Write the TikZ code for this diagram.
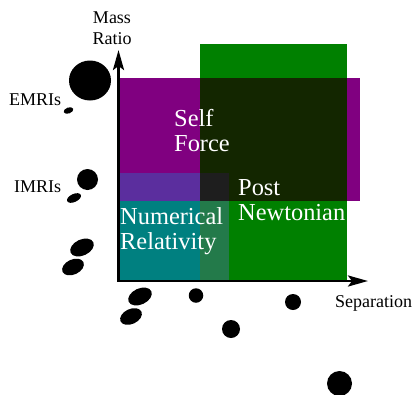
\documentclass[tikz,border=0pt]{standalone}
\usepackage{fontspec}
\setmainfont{Liberation Serif}
\usetikzlibrary{shapes,arrows.meta,positioning,calc}

\definecolor{pngreen}{HTML}{008000}
\definecolor{sfpurple}{HTML}{800080}
\definecolor{nrteal}{HTML}{008080}
\definecolor{sfpn}{HTML}{132600}
\definecolor{sfnr}{HTML}{5B2E9E}
\definecolor{pnnr}{HTML}{237A4A}
\definecolor{allthree}{HTML}{1E1E1E}

\begin{document}
\begin{tikzpicture}[x=1pt,y=-1pt,
    blob/.style={ellipse, fill=black, inner sep=0pt},
    axis/.style={line width=2.8pt, >={Stealth[length=20pt,width=11pt,inset=4pt]}, <->},
    axistext/.style={inner sep=0pt, font=\fontsize{18}{20.5}\selectfont},
    method/.style={inner sep=0pt, text=white, align=left, font=\fontsize{24.4}{25}\selectfont}]

\useasboundingbox (0,0) rectangle (415,394);

\fill[pngreen] (200,44) rectangle (347,280);
\fill[sfpurple] (120,78) rectangle (360,201);
\fill[sfpn] (200,78) rectangle (347,201);
\fill[nrteal] (120,173) rectangle (229,280);
\fill[sfnr] (120,173) rectangle (200,201);
\fill[pnnr] (200,201) rectangle (229,280);
\fill[allthree] (200,173) rectangle (229,201);

\coordinate (origin) at (118.5,281);
\coordinate (ytip) at (118.5,50);
\coordinate (xtip) at (368,281);
\draw[axis] (ytip) -- (origin) -- (xtip);

\node[method, anchor=base west] (selfforce) at (174,151) {Self\\Force};
\node[method, anchor=base west] (postnewt) at (238,220) {Post\\Newtonian};
\node[method, anchor=base west] (numrel) at (120,249) {Numerical\\Relativity};

\node[axistext, align=center, anchor=base] (massratio) at (112,44) {Mass\\Ratio};
\node[axistext, anchor=base west] (emris) at (9,105) {EMRIs};
\node[axistext, anchor=base west] (imris) at (14,192) {IMRIs};
\node[axistext, anchor=base west] (separation) at (335,307) {Separation};

\node[blob, minimum width=42pt, minimum height=40pt] (emribig) at (90,80.5) {};
\node[blob, minimum width=10pt, minimum height=6pt, rotate=20] (emrismall) at (68.5,110.5) {};
\node[blob, minimum width=21pt, minimum height=21pt] (imribig) at (87.5,179.5) {};
\node[blob, minimum width=15pt, minimum height=8pt, rotate=25] (imrismall) at (74,198) {};
\node[blob, minimum width=25pt, minimum height=16pt, rotate=25] (nrupper) at (82,247.5) {};
\node[blob, minimum width=23pt, minimum height=15pt, rotate=25] (nrlower) at (73,267) {};
\node[blob, minimum width=25pt, minimum height=16pt, rotate=25] (equpper) at (140,296.5) {};
\node[blob, minimum width=23pt, minimum height=15pt, rotate=25] (eqlower) at (131,316.5) {};
\node[blob, minimum size=14.5pt] (wideone) at (196,295.5) {};
\node[blob, minimum size=16pt] (widetwo) at (293,302) {};
\node[blob, minimum size=18pt] (widethree) at (231,329) {};
\node[blob, minimum size=25pt] (widefour) at (339.5,383.5) {};
\end{tikzpicture}
\end{document}
